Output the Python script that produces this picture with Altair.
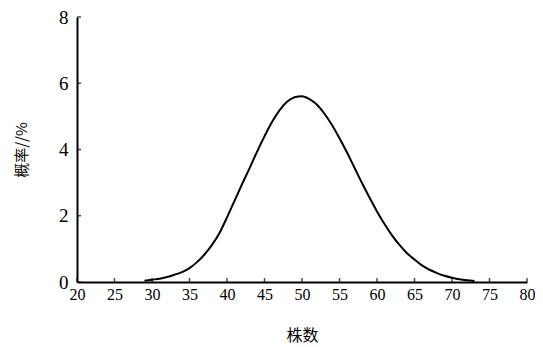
import altair as alt
import pandas as pd

# values
plants = list(range(29, 74))
prob = [0.04, 0.07, 0.10, 0.15, 0.22, 0.30, 0.42, 0.60, 0.83, 1.12,
        1.48, 1.95, 2.45, 2.95, 3.43, 3.93, 4.40, 4.83, 5.18, 5.44,
        5.58, 5.61, 5.52, 5.35, 5.08, 4.74, 4.34, 3.91, 3.45, 2.99,
        2.55, 2.13, 1.75, 1.41, 1.12, 0.87, 0.68, 0.50, 0.37, 0.27,
        0.19, 0.13, 0.08, 0.05, 0.03]
x_ticks = [20, 25, 30, 35, 40, 45, 50, 55, 60, 65, 70, 75, 80]
y_ticks = [0, 2, 4, 6, 8]

df = pd.DataFrame({"x": plants, "y": prob})
xt = pd.DataFrame({"t": x_ticks})
yt = pd.DataFrame({"t": y_ticks})

W, H = 450, 265
xscale = alt.Scale(domain=[20, 80], nice=False, zero=False)
yscale = alt.Scale(domain=[0, 8], nice=False)

xaxis = alt.Axis(values=x_ticks, tickSize=0, labelPadding=4, grid=False,
                 labelOverlap=False, labelFlush=False,
                 domainColor="black", domainWidth=2,
                 labelFont="Liberation Serif", labelFontSize=16, labelColor="black",
                 title="株数", titleFont="Noto Sans CJK SC", titleFontSize=16,
                 titleFontWeight="normal", titleColor="black",
                 titleX=W / 2, titleY=53, titleBaseline="middle", titleAnchor="middle")
yaxis = alt.Axis(values=y_ticks, tickSize=0, labelPadding=9, grid=False,
                 labelOverlap=False, labelFlush=False,
                 domainColor="black", domainWidth=2,
                 labelFont="Liberation Serif", labelFontSize=19, labelColor="black",
                 title="概率//%", titleFont="Noto Sans CJK SC", titleFontSize=15,
                 titleFontWeight="normal", titleColor="black", titleAngle=270,
                 titleX=-56, titleY=H / 2, titleBaseline="middle", titleAlign="center")

line = alt.Chart(df).mark_line(color="black", strokeWidth=2, interpolate="monotone").encode(
    x=alt.X("x:Q", scale=xscale, axis=xaxis),
    y=alt.Y("y:Q", scale=yscale, axis=yaxis),
)

xtick = alt.Chart(xt).mark_tick(color="black", size=4, thickness=1.5, yOffset=-2,
                                orient="vertical").encode(
    x=alt.X("t:Q", scale=xscale, axis=xaxis), y=alt.datum(0, scale=yscale, axis=yaxis))
ytick = alt.Chart(yt).mark_tick(color="black", size=4, thickness=1.5, xOffset=2,
                                orient="horizontal").encode(
    y=alt.Y("t:Q", scale=yscale, axis=yaxis), x=alt.datum(20, scale=xscale, axis=xaxis))

chart = alt.layer(line, xtick, ytick).properties(
    width=W, height=H,
    autosize=alt.AutoSizeParams(type="none"),
    padding={"left": 69, "top": 9, "right": 8, "bottom": 66},
    background="white",
).configure_view(stroke=None)

chart.save("out.html", embed_options={"renderer": "svg", "actions": False})
